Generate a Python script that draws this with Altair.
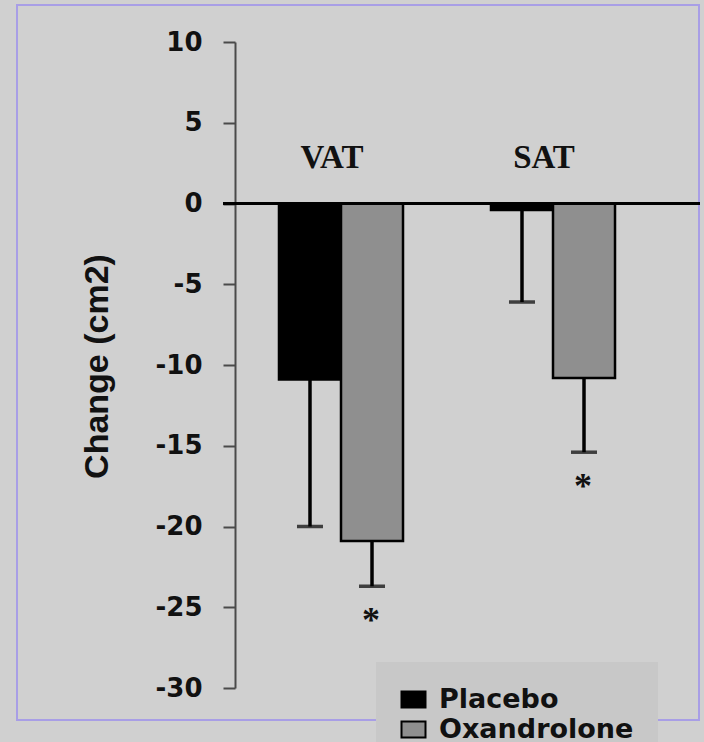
import altair as alt
import pandas as pd

# Mean change in fat area (cm2) with one-sided SE bars
regions = ["VAT", "SAT"]
groups = ["Placebo", "Oxandrolone"]
region_col = ["VAT", "VAT", "SAT", "SAT"]
group_col = ["Placebo", "Oxandrolone", "Placebo", "Oxandrolone"]
mean_change = [-10.9, -20.9, -0.4, -10.8]
error_low = [-20.0, -23.7, -6.1, -15.4]
significance = ["", "*", "", "*"]

df = pd.DataFrame({
    "region": region_col,
    "group": group_col,
    "change": mean_change,
    "low": error_low,
    "sig": significance,
})
labels_df = pd.DataFrame({"region": regions})
frame_df = pd.DataFrame({"k": [0]})

W, H = 424, 646

x_enc = alt.X("region:N", sort=regions, axis=None,
              scale=alt.Scale(paddingInner=0.415, paddingOuter=0.2075))
xo_enc = alt.XOffset("group:N", sort=groups,
                     scale=alt.Scale(domain=groups, paddingInner=0, paddingOuter=0))
y_scale = alt.Scale(domain=[-30, 10], nice=False, zero=False)

y_axis = alt.Axis(
    values=[10, 5, 0, -5, -10, -15, -20, -25, -30],
    labelExpr="toString(datum.value)",
    grid=False,
    domainColor="#4a4a4a", domainWidth=2,
    tickColor="#4a4a4a", tickWidth=2, tickSize=12,
    labelFont="DejaVu Sans", labelFontWeight="bold", labelFontSize=26,
    labelColor="#111111", labelPadding=21,
    title="Change (cm2)",
    titleFont="Liberation Sans", titleFontWeight="bold", titleFontSize=34,
    titleColor="#111111", titleAngle=270, titleAlign="center",
    titleBaseline="alphabetic", titleX=-128, titleY=324,
)

frame = alt.Chart(frame_df).mark_rect(filled=False, stroke="#a89ee6", strokeWidth=2).encode(
    x=alt.value(-218), x2=alt.value(464), y=alt.value(-37), y2=alt.value(678)
)

bars = alt.Chart(df).mark_bar(stroke="black", strokeWidth=2.5).encode(
    x=x_enc,
    xOffset=xo_enc,
    y=alt.Y("change:Q", scale=y_scale, axis=y_axis),
    color=alt.Color(
        "group:N",
        sort=groups,
        scale=alt.Scale(domain=groups, range=["#000000", "#8f8f8f"]),
        legend=alt.Legend(
            orient="none", legendX=141, legendY=620, title=None,
            symbolType="M-1,-0.667H1V0.667H-1Z", symbolSize=576,
            symbolStrokeColor="black", symbolStrokeWidth=2, symbolOpacity=1,
            labelFont="DejaVu Sans", labelFontWeight="bold", labelFontSize=27,
            labelColor="#111111", labelOffset=12, labelLimit=400, rowPadding=2,
            fillColor="#c8c8c8", padding=24,
        ),
    ),
)

err = alt.Chart(df).mark_rule(color="black", strokeWidth=3.5).encode(
    x=x_enc, xOffset=xo_enc, y=alt.Y("change:Q", scale=y_scale), y2="low:Q"
)

caps = alt.Chart(df).mark_tick(color="black", thickness=3.5, size=26).encode(
    x=x_enc, xOffset=xo_enc, y=alt.Y("low:Q", scale=y_scale)
)

stars = alt.Chart(df).mark_text(
    font="Liberation Serif", fontWeight="bold", fontSize=36, color="#111111",
    baseline="middle", dy=35, dx=-1,
).encode(x=x_enc, xOffset=xo_enc, y=alt.Y("low:Q", scale=y_scale), text="sig:N")

zero_line = alt.Chart(frame_df).mark_rule(color="black", strokeWidth=3).encode(
    y=alt.datum(0, scale=y_scale), x=alt.value(-12), x2=alt.value(465)
)

region_labels = alt.Chart(labels_df).mark_text(
    font="Liberation Serif", fontWeight="bold", fontSize=33, color="#111111",
    baseline="middle", dx=-9,
).encode(x=x_enc, y=alt.datum(2.8, scale=y_scale), text="region:N")

chart = alt.layer(frame, bars, err, caps, stars, zero_line, region_labels).properties(
    width=W, height=H,
    padding={"left": 235, "top": 42, "right": 45, "bottom": 54},
    autosize=alt.AutoSizeParams(type="none"),
    background="#d0d0d0",
).configure_view(stroke=None)

chart.save("out.html", embed_options={"renderer": "svg", "actions": False})
